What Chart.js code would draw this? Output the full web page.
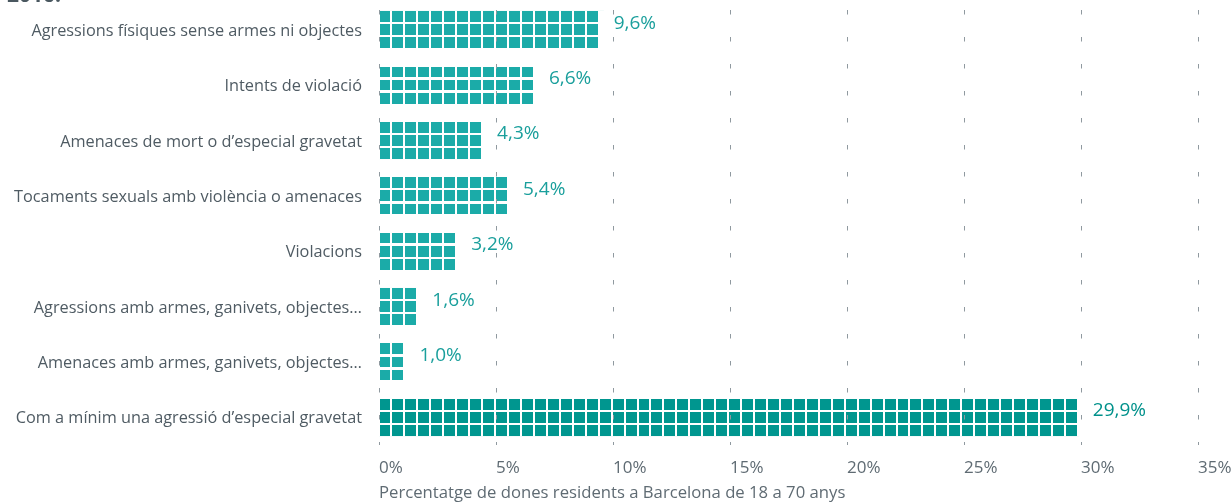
<!DOCTYPE html>
<html>
<head>
<meta charset="utf-8">
<script src="https://cdn.jsdelivr.net/npm/chart.js@4.4.1/dist/chart.umd.min.js"></script>
<style>
html,body{margin:0;padding:0;background:#fff;}
canvas{display:block;}
</style>
</head>
<body>
<canvas id="c" width="1232" height="503"></canvas>
<script>
const categories = [
  "Agressions físiques sense armes ni objectes",
  "Intents de violació",
  "Amenaces de mort o d’especial gravetat",
  "Tocaments sexuals amb violència o amenaces",
  "Violacions",
  "Agressions amb armes, ganivets, objectes…",
  "Amenaces amb armes, ganivets, objectes…",
  "Com a mínim una agressió d’especial gravetat"
];
const values = [9.6, 6.6, 4.3, 5.4, 3.2, 1.6, 1.0, 29.9];
const valueLabels = ["9,6%", "6,6%", "4,3%", "5,4%", "3,2%", "1,6%", "1,0%", "29,9%"];
const xTicks = [0, 5, 10, 15, 20, 25, 30, 35];
const headText = "2016.";
const axisTitle = "Percentatge de dones residents a Barcelona de 18 a 70 anys";

const FONT = "'Open Sans', 'Noto Sans', sans-serif";
const barColors = values.map((v, i) => i === values.length - 1 ? '#00968f' : '#1babA8');
const labelColors = values.map((v, i) => i === values.length - 1 ? '#00918b' : '#1a9f9c');

const P = 12.95, GAP = 2, RGAP = 2.3;

const waffle = {
  id: 'waffle',
  afterDatasetsDraw(chart) {
    const ctx = chart.ctx;
    const meta = chart.getDatasetMeta(0);
    ctx.save();
    meta.data.forEach((el, i) => {
      const p = el.getProps(['x', 'y', 'base', 'height'], true);
      const top = p.y - p.height / 2;
      const left = Math.min(p.base, p.x);
      const len = Math.abs(p.x - p.base);
      ctx.fillStyle = '#ffffff';
      ctx.fillRect(left - 1, top - 1, len + 3, p.height + 2);
      const n = Math.max(1, Math.round((len + GAP) / P));
      const rh = (p.height - 2 * RGAP) / 3;
      ctx.fillStyle = barColors[i];
      for (let r = 0; r < 3; r++) {
        const y0 = Math.round(top + r * (rh + RGAP));
        const y1 = Math.round(top + r * (rh + RGAP) + rh);
        for (let k = 0; k < n; k++) {
          const x0 = Math.round(left + k * P);
          const x1 = Math.round(left + k * P + P - GAP);
          ctx.fillRect(x0, y0, x1 - x0, y1 - y0);
        }
      }
      const end = left + n * P - GAP;
      ctx.fillStyle = labelColors[i];
      ctx.font = "19px " + FONT;
      ctx.textAlign = 'left';
      ctx.textBaseline = 'alphabetic';
      ctx.fillText(valueLabels[i], end + 16, p.y - 1);
    });
    ctx.restore();
  }
};

const head = {
  id: 'head',
  afterDraw(chart) {
    const ctx = chart.ctx;
    ctx.save();
    ctx.fillStyle = '#4a5860';
    ctx.font = "bold 21px " + FONT;
    ctx.textBaseline = 'alphabetic';
    ctx.textAlign = 'left';
    ctx.fillText(headText, 7, 2);
    ctx.restore();
  }
};

new Chart(document.getElementById('c'), {
  type: 'bar',
  data: {
    labels: categories,
    datasets: [{
      data: values,
      backgroundColor: barColors,
      borderWidth: 0,
      barThickness: 37
    }]
  },
  options: {
    indexAxis: 'y',
    responsive: false,
    animation: false,
    layout: { padding: { top: 2, right: 0, bottom: 0, left: 0 } },
    plugins: { legend: { display: false }, tooltip: { enabled: false }, title: { display: false } },
    scales: {
      x: {
        min: 0, max: 35,
        afterBuildTicks(scale) { scale.ticks = xTicks.map(v => ({ value: v })); },
        afterFit(scale) { scale.height = 58; scale.paddingRight = 34; scale.paddingLeft = 0; },
        border: { display: false, dash: [4.5, 22.5], dashOffset: 19 },
        grid: {
          z: 1,
          drawTicks: false,
          color: '#8f999f',
          lineWidth: 1
        },
        ticks: {
          align: 'start',
          padding: 13,
          color: '#5f6b73',
          font: { family: FONT, size: 17 },
          callback: v => v + '%'
        },
        title: {
          display: true,
          text: axisTitle,
          align: 'start',
          color: '#5f6b73',
          font: { family: FONT, size: 16.7, lineHeight: 1.2 },
          padding: { top: 0, bottom: 0 }
        }
      },
      y: {
        afterFit(scale) { scale.width = 379; scale.paddingTop = 0; scale.paddingBottom = 0; },
        border: { display: false },
        grid: { display: false, drawTicks: false },
        ticks: {
          padding: 17,
          labelOffset: 1.5,
          color: '#4f5b63',
          font: { family: FONT, size: 16.3 }
        }
      }
    }
  },
  plugins: [waffle, head]
});
</script>
</body>
</html>
